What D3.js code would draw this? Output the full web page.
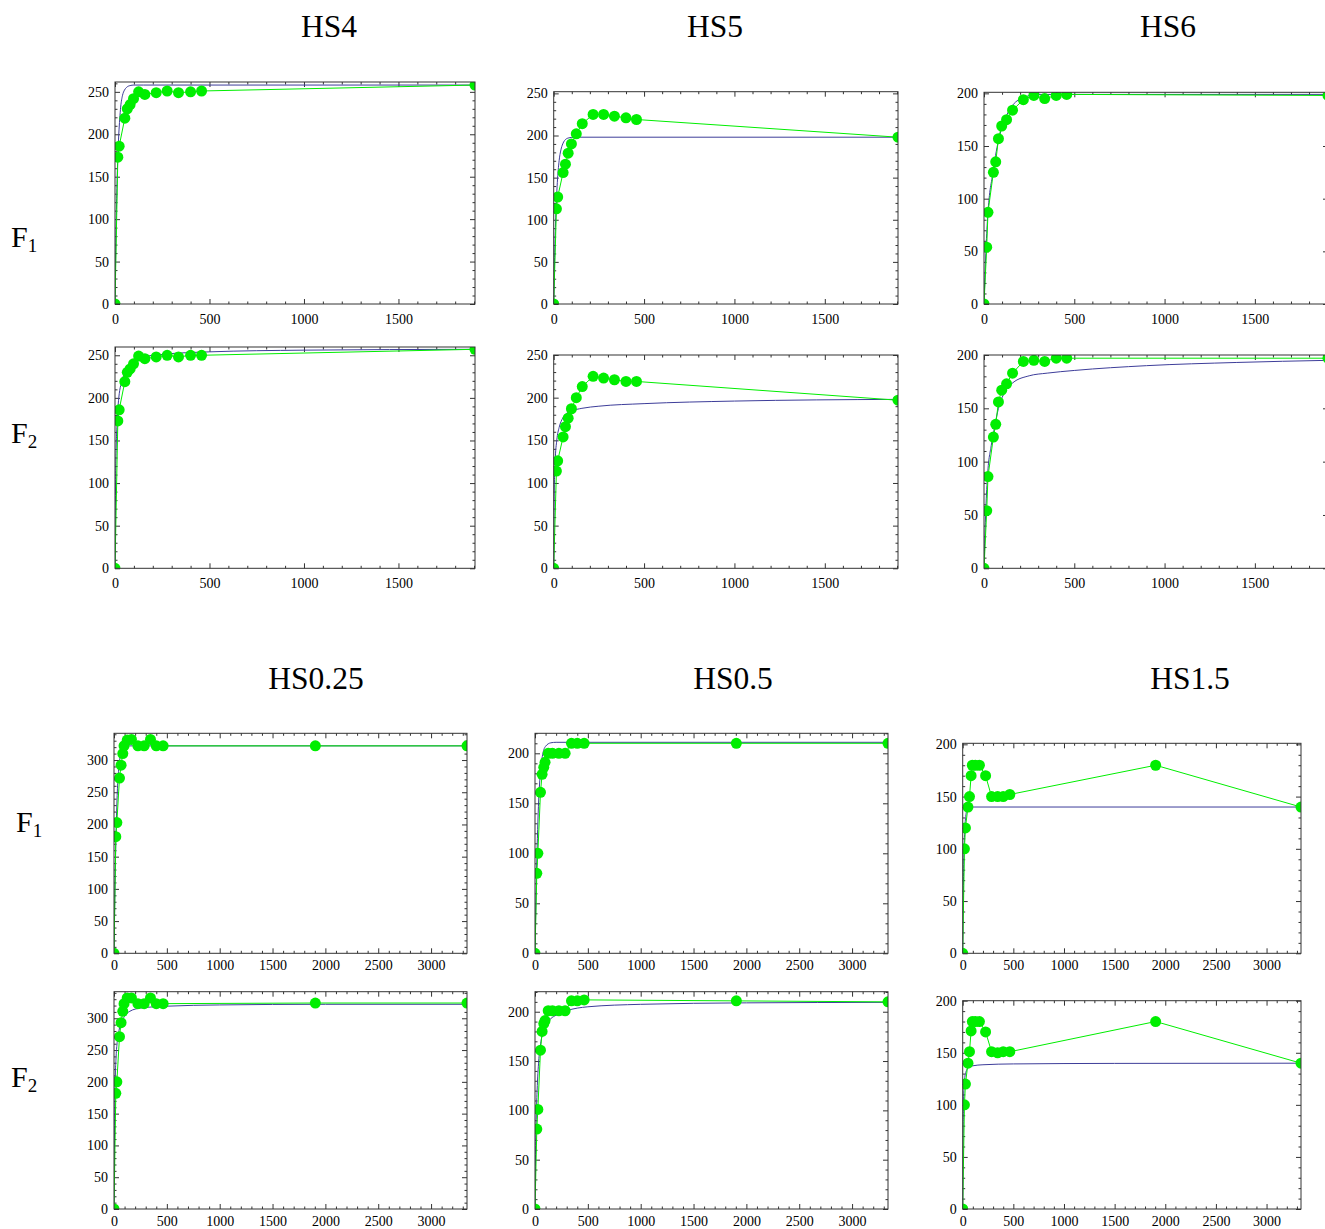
<!DOCTYPE html>
<html><head><meta charset="utf-8">
<script src="https://cdn.jsdelivr.net/npm/d3@7"></script>
<style>
body{margin:0;background:#fff}
svg{display:block}
text{font-family:"Liberation Serif","Times New Roman",serif;fill:#000}
</style>
</head><body>
<svg id="c" width="1325" height="1229"></svg>
<script>
// ---------- data ----------
const topTimes    = [0, 15, 22, 52, 65, 80, 98, 125, 158, 218, 276, 336, 400, 458, 1905];
const bottomTimes = [0, 17, 27, 52, 67, 83, 95, 125, 165, 226, 285, 345, 400, 465, 1905, 3340];

const hs4F1 = [0, 173, 186, 219, 230, 235, 242, 250, 247, 249, 251, 249, 250, 251, 258];
const hs4F2 = [0, 173, 186, 219, 230, 234, 240, 249, 246, 248, 250, 248, 250, 250, 257];
const hs5F1 = [0, 113, 127, 156, 166, 179, 190, 202, 214, 225, 225, 223, 221, 219, 198];
const hs5F2 = [0, 114, 126, 154, 166, 176, 187, 200, 213, 225, 223, 221, 219, 219, 197];
const hs6F1 = [0, 54, 87, 125, 135, 157, 169, 175, 184, 194, 198, 195, 198, 199, 198];
const hs6F2 = [0, 54, 86, 123, 135, 156, 167, 173, 183, 194, 195, 194, 197, 197, 197];

const hs025F1 = [0, 181, 203, 272, 292, 310, 322, 331, 332, 322, 322, 332, 322, 322, 322, 322];
const hs025F2 = [0, 182, 200, 271, 293, 311, 323, 332, 332, 323, 323, 332, 323, 323, 324, 324];
const hs05F1  = [0, 80, 100, 161, 179, 186, 191, 200, 200, 200, 200, 210, 210, 210, 210, 210];
const hs05F2  = [0, 81, 101, 161, 180, 188, 191, 201, 201, 201, 201, 211, 211, 212, 211, 210];
const hs15F1  = [0, 100, 120, 140, 150, 170, 180, 180, 180, 170, 150, 150, 150, 152, 180, 140];
const hs15F2  = [0, 100, 120, 140, 151, 171, 180, 180, 180, 170, 151, 150, 151, 151, 180, 140];

// fitted model curves as [time, value]
const fitHS4F1 = [[0,0],[5,81],[10,136],[15,174],[20,200],[25,218],[30,232],[40,246],[50,252],[60,255],[80,257.4],[100,258],[150,258],[1905,258]];
const fitHS4F2 = [[0,0],[3,100],[6,140],[10,165],[20,200],[40,222],[60,235],[100,244],[150,248],[250,251],[500,254],[1000,256],[1905,257]];
const fitHS5F1 = [[0,0],[5,55],[10,95],[15,123],[20,144],[30,170],[40,183],[50,190],[60,194],[80,197],[100,197.7],[150,198],[1905,198]];
const fitHS5F2 = [[0,0],[3,90],[8,125],[17,150],[30,165],[45,174],[63,180],[100,184.5],[156,187.5],[250,190],[500,193],[1000,196],[1905,198]];
const fitHS6F1 = [[0,0],[10,48],[20,82],[30,103],[45,120],[60,137],[76,152],[100,168],[125,179],[160,189],[220,196],[300,199],[500,199],[1905,199]];
const fitHS6F2 = [[0,0],[5,30],[10,55],[20,88],[40,115],[56,130],[80,150],[100,160],[130,169],[160,174],[250,180.5],[350,183],[500,185.5],[900,190],[1400,193],[1905,195]];
const fitHS025F1 = [[0,0],[10,110],[20,190],[30,245],[50,295],[75,315],[100,320],[150,322],[3340,322]];
const fitHS025F2 = [[0,0],[5,120],[10,190],[20,240],[30,262],[50,283],[75,296],[100,303],[150,311],[250,316],[500,319],[1000,321],[2000,322],[3340,322]];
const fitHS05F1 = [[0,0],[10,60],[20,105],[30,140],[50,180],[75,200],[100,207],[150,210.5],[200,211],[3340,211]];
const fitHS05F2 = [[0,0],[5,55],[10,85],[20,120],[35,150],[50,165],[75,179],[100,186],[150,193],[200,196.5],[300,201],[500,205],[1000,207.5],[2000,209],[3340,209.5]];
const fitHS15F1 = [[0,0],[5,50],[10,85],[20,118],[30,131],[45,138],[60,140],[3340,140]];
const fitHS15F2 = [[0,0],[3,60],[8,100],[15,120],[30,131],[60,136],[100,137.5],[200,138.5],[500,139.3],[1500,139.8],[3340,140]];

const titlesTop = ["HS4", "HS5", "HS6"];
const titlesBottom = ["HS0.25", "HS0.5", "HS1.5"];

// ---------- layout ----------
const panels = [
  {t: topTimes, v: hs4F1, fit: fitHS4F1, xMax: 1905, yMax: 261.6, b: [115, 475, 82, 304], pad: 10},
  {t: topTimes, v: hs4F2, fit: fitHS4F2, xMax: 1905, yMax: 259.7, b: [115, 475, 347, 568.3], pad: 10},
  {t: topTimes, v: hs5F1, fit: fitHS5F1, xMax: 1905, yMax: 252, b: [553.7, 898, 91.7, 304], pad: 10},
  {t: topTimes, v: hs5F2, fit: fitHS5F2, xMax: 1905, yMax: 250, b: [553.7, 898, 355, 568.3], pad: 10},
  {t: topTimes, v: hs6F1, fit: fitHS6F1, xMax: 1905, yMax: 201, b: [984, 1328, 92.3, 304], pad: 10},
  {t: topTimes, v: hs6F2, fit: fitHS6F2, xMax: 1905, yMax: 200, b: [984, 1328, 355, 568.3], pad: 10},
  {t: bottomTimes, v: hs025F1, fit: fitHS025F1, xMax: 3340, yMax: 341.5, b: [114, 467, 733.3, 953.3], pad: 7},
  {t: bottomTimes, v: hs025F2, fit: fitHS025F2, xMax: 3340, yMax: 341.8, b: [114, 467, 991.7, 1209], pad: 7},
  {t: bottomTimes, v: hs05F1, fit: fitHS05F1, xMax: 3340, yMax: 220, b: [535, 888, 733.3, 953.3], pad: 7},
  {t: bottomTimes, v: hs05F2, fit: fitHS05F2, xMax: 3340, yMax: 220.3, b: [535, 888, 991.7, 1209], pad: 7},
  {t: bottomTimes, v: hs15F1, fit: fitHS15F1, xMax: 3340, yMax: 201, b: [962.7, 1301, 743.3, 953.3], pad: 7},
  {t: bottomTimes, v: hs15F2, fit: fitHS15F2, xMax: 3340, yMax: 200, b: [962.7, 1301, 1000.7, 1209], pad: 7}
];

const GREEN = "#00ee00", BLUE = "#3d3d99", FRAME = "#333";
const FONT = '"Liberation Serif","Times New Roman",serif';
const svg = d3.select("#c");

function styleAxis(g, labels) {
  g.attr("font-family", FONT).attr("font-size", 14);
  g.select(".domain").remove();
  g.selectAll(".tick line").attr("stroke", FRAME).attr("stroke-width", 1);
  g.selectAll("text").style("font-size", "14px").style("font-family", FONT);
  if (!labels) g.selectAll("text").remove();
}

panels.forEach((p, i) => {
  const [x0, x1, y0, y1] = p.b;
  const x = d3.scaleLinear().domain([0, p.xMax]).range([x0, x1]);
  const y = d3.scaleLinear().domain([0, p.yMax]).range([y1, y0]);
  const g = svg.append("g");

  const clipId = "clip" + i;
  svg.append("clipPath").attr("id", clipId).append("rect")
    .attr("x", x0).attr("y", y0).attr("width", x1 - x0).attr("height", y1 - y0);

  const yMaj = d3.range(0, p.yMax + 0.001, 50);
  const yMin = d3.range(0, p.yMax + 0.001, 10).filter(d => d % 50 !== 0);
  const xMaj = d3.range(0, p.xMax + 0.001, 500);
  const xMin = d3.range(0, p.xMax + 0.001, 100).filter(d => d % 500 !== 0);

  g.append("g").attr("transform", `translate(${x0},0)`)
    .call(d3.axisLeft(y).tickValues(yMaj).tickSize(-5).tickPadding(6).tickFormat(d3.format("d")))
    .call(a => styleAxis(a, true));
  g.append("g").attr("transform", `translate(${x0},0)`)
    .call(d3.axisLeft(y).tickValues(yMin).tickSize(-2.5)).call(a => styleAxis(a, false));
  g.append("g").attr("transform", `translate(${x1},0)`)
    .call(d3.axisRight(y).tickValues(yMaj).tickSize(-5)).call(a => styleAxis(a, false));
  g.append("g").attr("transform", `translate(${x1},0)`)
    .call(d3.axisRight(y).tickValues(yMin).tickSize(-2.5)).call(a => styleAxis(a, false));
  g.append("g").attr("transform", `translate(0,${y1})`)
    .call(d3.axisBottom(x).tickValues(xMaj).tickSize(-5).tickPadding(p.pad).tickFormat(d3.format("d")))
    .call(a => styleAxis(a, true));
  g.append("g").attr("transform", `translate(0,${y1})`)
    .call(d3.axisBottom(x).tickValues(xMin).tickSize(-2.5)).call(a => styleAxis(a, false));
  g.append("g").attr("transform", `translate(0,${y0})`)
    .call(d3.axisTop(x).tickValues(xMaj).tickSize(-5)).call(a => styleAxis(a, false));
  g.append("g").attr("transform", `translate(0,${y0})`)
    .call(d3.axisTop(x).tickValues(xMin).tickSize(-2.5)).call(a => styleAxis(a, false));

  const data = p.t.map((t, k) => [t, p.v[k]]);
  const plot = g.append("g").attr("clip-path", `url(#${clipId})`);

  plot.append("path").datum(p.fit)
    .attr("fill", "none").attr("stroke", BLUE).attr("stroke-width", 1)
    .attr("d", d3.line().x(d => x(d[0])).y(d => y(d[1])).curve(d3.curveMonotoneX));

  plot.append("path").datum(data)
    .attr("fill", "none").attr("stroke", GREEN).attr("stroke-width", 1)
    .attr("d", d3.line().x(d => x(d[0])).y(d => y(d[1])));

  plot.selectAll("circle").data(data).join("circle")
    .attr("cx", d => x(d[0])).attr("cy", d => y(d[1])).attr("r", 5.5)
    .attr("fill", GREEN);

  g.append("rect").attr("x", x0).attr("y", y0).attr("width", x1 - x0).attr("height", y1 - y0)
    .attr("fill", "none").attr("stroke", FRAME).attr("stroke-width", 1);
});

// titles
const topTitleX = [329, 715, 1168], bottomTitleX = [316, 733, 1190];
titlesTop.forEach((s, i) => svg.append("text").attr("x", topTitleX[i]).attr("y", 37)
  .attr("text-anchor", "middle").style("font-size", "31.5px").text(s));
titlesBottom.forEach((s, i) => svg.append("text").attr("x", bottomTitleX[i]).attr("y", 689)
  .attr("text-anchor", "middle").style("font-size", "31.5px").text(s));

// row labels
const rowLabels = [["1", 11, 247], ["2", 11, 443], ["1", 16, 832], ["2", 11, 1087]];
rowLabels.forEach(([sub, lx, ly]) => {
  const t = svg.append("text").attr("x", lx).attr("y", ly).style("font-size", "30px");
  t.append("tspan").text("F");
  t.append("tspan").attr("dy", 5).style("font-size", "19px").text(sub);
});
</script>
</body></html>
